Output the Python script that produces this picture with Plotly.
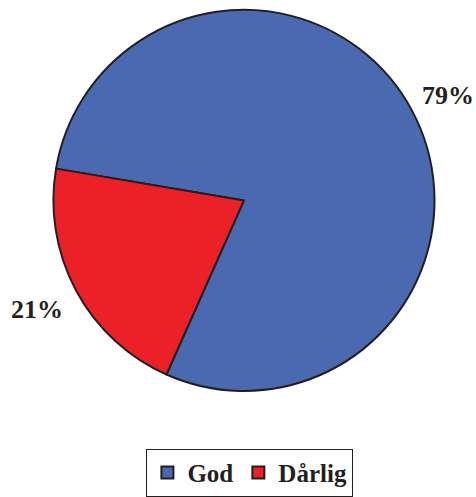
import plotly.graph_objects as go

labels = ["God", "Dårlig"]
values = [79, 21]
text_labels = ["79%", "21%"]
colors = ["#4A69B1", "#EC2027"]

FONT = "Liberation Serif, Times New Roman, serif"

fig = go.Figure(go.Pie(
    labels=labels,
    values=values,
    textinfo="none",
    sort=False,
    direction="clockwise",
    rotation=-80.4,
    marker=dict(colors=colors, line=dict(color="#231F20", width=2)),
    domain=dict(x=[0.109, 0.916], y=[0.207, 0.98]),
    showlegend=True,
))

# percent labels placed outside the slices
label_pos = [(0.941, 0.807), (0.078, 0.372)]
for txt, (lx, ly) in zip(text_labels, label_pos):
    fig.add_annotation(
        x=lx, y=ly, xref="paper", yref="paper",
        xanchor="center", yanchor="middle",
        text=txt, showarrow=False,
        font=dict(family=FONT, size=26, color="#231F20", weight="bold"),
    )

fig.update_layout(
    width=476, height=497,
    margin=dict(l=0, r=0, t=0, b=0),
    paper_bgcolor="white",
    plot_bgcolor="white",
    legend=dict(
        orientation="h",
        x=0.525, xanchor="center",
        y=0.09, yanchor="top",
        bordercolor="#231F20", borderwidth=1,
        font=dict(family=FONT, size=25, color="#231F20", weight="bold"),
        itemsizing="constant",
    ),
)

fig.write_html("out.html")
